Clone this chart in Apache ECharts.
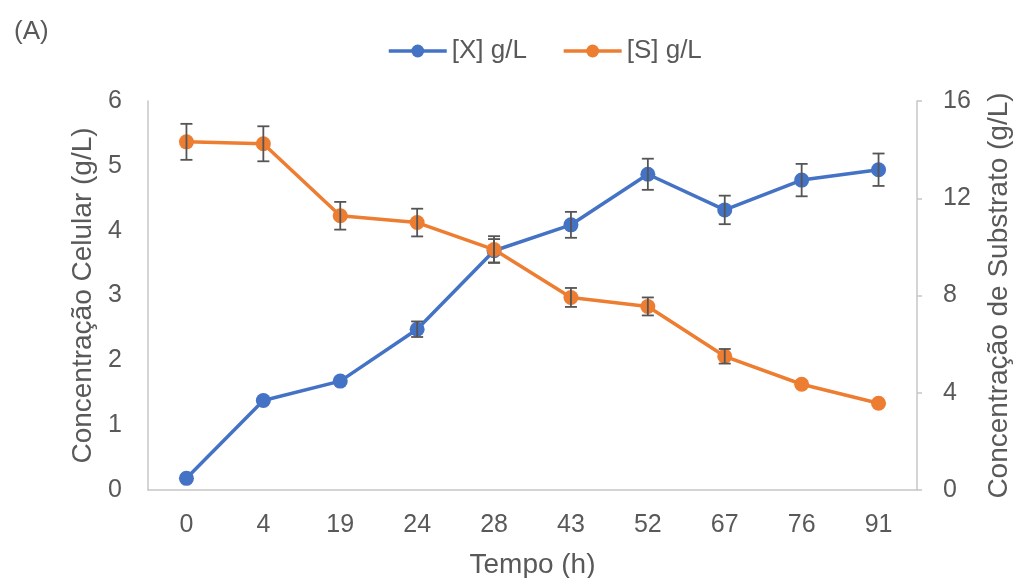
<!DOCTYPE html>
<html>
<head>
<meta charset="utf-8">
<script src="https://cdn.jsdelivr.net/npm/echarts@6/dist/echarts.min.js"></script>
<style>html,body{margin:0;padding:0;background:#fff}#c{width:1014px;height:578px}</style>
</head>
<body>
<div id="c"></div>
<script>
const categories = ['0','4','19','24','28','43','52','67','76','91'];
const xValues = [0.18,1.38,1.68,2.48,3.69,4.09,4.87,4.32,4.78,4.94];
const xErrors = [0,0,0,0.12,0.18,0.2,0.24,0.22,0.25,0.25];
const sValues = [14.32,14.24,11.28,11.0,9.89,7.92,7.55,5.5,4.35,3.57];
const sErrors = [0.74,0.72,0.57,0.57,0.55,0.39,0.37,0.3,0,0];
const leftTicks = {min:0,max:6,interval:1};
const rightTicks = {min:0,max:16,interval:4};

const textColor = '#595959';
const font = 'Liberation Sans, Arial, sans-serif';

function errData(vals, errs){
  return vals.map((v,i)=>[i, v-errs[i], v+errs[i], errs[i]]).filter(d=>d[3]>0);
}
function renderErr(params, api){
  const i = api.value(0);
  const lo = api.coord([i, api.value(1)]);
  const hi = api.coord([i, api.value(2)]);
  const w = 6;
  const st = {stroke:'#555555', lineWidth:1.8};
  return {type:'group', children:[
    {type:'line', shape:{x1:lo[0],y1:lo[1],x2:hi[0],y2:hi[1]}, style:st},
    {type:'line', shape:{x1:lo[0]-w,y1:lo[1],x2:lo[0]+w,y2:lo[1]}, style:st},
    {type:'line', shape:{x1:hi[0]-w,y1:hi[1],x2:hi[0]+w,y2:hi[1]}, style:st}
  ]};
}

const chart = echarts.init(document.getElementById('c'), null, {renderer:'canvas'});
chart.setOption({
  animation:false,
  backgroundColor:'#ffffff',
  textStyle:{fontFamily:font, color:textColor},
  title:{text:'(A)', left:9, top:14, textStyle:{fontFamily:font, fontSize:26, fontWeight:'normal', color:textColor}},
  legend:{
    left:387, top:38, padding:0, itemWidth:58, itemHeight:16, itemGap:35,
    lineStyle:{width:3.5},
    textStyle:{fontFamily:font, fontSize:26, color:textColor},
    data:['[X] g/L','[S] g/L']
  },
  grid:{left:148, right:97, top:101, bottom:88, containLabel:false, outerBoundsMode:'none'},
  xAxis:{
    type:'category', data:categories, boundaryGap:true,
    name:'Tempo (h)', nameLocation:'middle', nameGap:61,
    nameTextStyle:{fontFamily:font, fontSize:28, color:textColor},
    axisLine:{lineStyle:{color:'#c6c6c6', width:1.5}},
    axisTick:{show:false},
    axisLabel:{fontFamily:font, fontSize:25, color:textColor, margin:23},
    splitLine:{show:false}
  },
  yAxis:[
    {type:'value', min:leftTicks.min, max:leftTicks.max, interval:leftTicks.interval, position:'left',
     name:'Concentração Celular (g/L)', nameLocation:'middle', nameGap:46, nameRotate:90,
     nameTextStyle:{fontFamily:font, fontSize:28, color:textColor},
     axisLine:{show:true, lineStyle:{color:'#c6c6c6', width:1.5}},
     axisTick:{show:false},
     axisLabel:{fontFamily:font, fontSize:25, color:textColor, margin:26},
     splitLine:{show:false}},
    {type:'value', min:rightTicks.min, max:rightTicks.max, interval:rightTicks.interval, position:'right',
     name:'Concentração de Substrato (g/L)', nameLocation:'middle', nameGap:68, nameRotate:90,
     nameTextStyle:{fontFamily:font, fontSize:28, color:textColor},
     axisLine:{show:true, lineStyle:{color:'#c6c6c6', width:1.5}},
     axisTick:{show:true, length:5, lineStyle:{color:'#c6c6c6', width:1.5}},
     axisLabel:{fontFamily:font, fontSize:25, color:textColor, margin:26},
     splitLine:{show:false}}
  ],
  series:[
    {name:'[X] g/L', type:'line', yAxisIndex:0, data:xValues, symbol:'circle', symbolSize:15,
     itemStyle:{color:'#4472C4'}, lineStyle:{color:'#4472C4', width:3.5}, z:2},
    {name:'[S] g/L', type:'line', yAxisIndex:1, data:sValues, symbol:'circle', symbolSize:15,
     itemStyle:{color:'#ED7D31'}, lineStyle:{color:'#ED7D31', width:3.5}, z:3},
    {type:'custom', yAxisIndex:0, data:errData(xValues,xErrors), renderItem:renderErr, z:5, silent:true,
     encode:{x:0, y:[1,2]}},
    {type:'custom', yAxisIndex:1, data:errData(sValues,sErrors), renderItem:renderErr, z:5, silent:true,
     encode:{x:0, y:[1,2]}}
  ]
});
</script>
</body>
</html>
